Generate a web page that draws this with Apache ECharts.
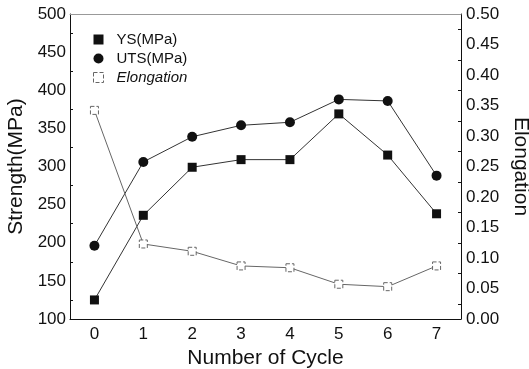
<!DOCTYPE html>
<html lang="en">
<head>
    <meta charset="UTF-8">
    <script type="text/javascript" src="https://cdn.jsdelivr.net/npm/echarts@6/dist/echarts.min.js"></script>
    <title>Strength vs Cycle</title>
    <style>
        html, body { margin: 0; padding: 0; background: #fff; overflow: hidden; }
    </style>
</head>
<body>
<div id="chart" style="width: 529px; height: 369px"></div>

<script>
    var cycles = ['0', '1', '2', '3', '4', '5', '6', '7'];
    var ysData = [125, 236, 299, 309, 309, 369, 315, 238];
    var utsData = [196, 306, 339, 354, 358, 388, 386, 288];
    var elongData = [0.342, 0.123, 0.111, 0.087, 0.084, 0.057, 0.053, 0.087];
    var strengthTicks = [100, 500, 50];
    var elongTicks = [0, 0.5, 0.05];

    var font = 'Liberation Sans, Arial, sans-serif';
    var mChart = echarts.init(document.getElementById('chart'));

    var option = {
        animation: false,
        grid: { left: 70, right: 68, top: 14, bottom: 50, outerBoundsMode: 'none', containLabel: false },
        legend: {
            orient: 'vertical',
            left: 88,
            top: 27,
            itemGap: 4,
            itemWidth: 10,
            itemHeight: 10,
            data: [
                { name: 'YS(MPa)', icon: 'rect' },
                { name: 'UTS(MPa)', icon: 'circle' },
                { name: 'Elongation', icon: 'rect', itemStyle: { color: '#fff', borderColor: '#666', borderWidth: 1, borderType: 'dashed' } }
            ],
            formatter: function (name) {
                return name === 'Elongation' ? '{i|' + name + '}' : name;
            },
            textStyle: {
                fontFamily: font, fontSize: 15, color: '#111', padding: [0, 0, 0, 8],
                rich: { i: { fontStyle: 'italic', fontFamily: font, fontSize: 15, color: '#111' } }
            }
        },
        xAxis: [
            {
                type: 'category',
                data: cycles,
                boundaryGap: true,
                position: 'bottom',
                name: 'Number of Cycle',
                nameLocation: 'middle',
                nameGap: 26,
                nameTextStyle: { fontFamily: font, fontSize: 21, color: '#111' },
                axisLine: { lineStyle: { color: '#111', width: 1 } },
                axisTick: { alignWithLabel: true, inside: true, length: 5, lineStyle: { color: '#111' } },
                axisLabel: { fontFamily: font, fontSize: 17, color: '#111', margin: 7 },
                splitLine: { show: false }
            },
            {
                type: 'category',
                data: cycles,
                boundaryGap: true,
                position: 'bottom',
                axisLine: { show: false },
                axisTick: { alignWithLabel: false, inside: true, length: 3, lineStyle: { color: '#111' } },
                axisLabel: { show: false },
                splitLine: { show: false }
            },
            {
                type: 'category',
                data: cycles,
                boundaryGap: true,
                position: 'top',
                axisLine: { lineStyle: { color: '#999', width: 1 } },
                axisTick: { alignWithLabel: true, inside: true, length: 4, lineStyle: { color: '#999' } },
                axisLabel: { show: false },
                splitLine: { show: false }
            }
        ],
        yAxis: [
            {
                type: 'value',
                min: strengthTicks[0],
                max: strengthTicks[1],
                interval: strengthTicks[2],
                name: 'Strength(MPa)',
                nameLocation: 'middle',
                nameGap: 37,
                nameTextStyle: { fontFamily: font, fontSize: 21, color: '#111' },
                axisLine: { show: true, lineStyle: { color: '#111' } },
                axisTick: { inside: true, length: 5, lineStyle: { color: '#111' } },
                minorTick: { show: true, splitNumber: 2, length: 3, lineStyle: { color: '#111' } },
                axisLabel: { fontFamily: font, fontSize: 17, color: '#111', margin: 4 },
                splitLine: { show: false }
            },
            {
                type: 'value',
                min: elongTicks[0],
                max: elongTicks[1],
                interval: elongTicks[2],
                position: 'right',
                name: 'Elongation',
                nameLocation: 'middle',
                nameRotate: -90,
                nameGap: 46,
                nameTextStyle: { fontFamily: font, fontSize: 21, color: '#111' },
                axisLine: { show: true, lineStyle: { color: '#111' } },
                axisTick: { inside: true, length: 5, lineStyle: { color: '#111' } },
                minorTick: { show: true, splitNumber: 2, length: 3, lineStyle: { color: '#111' } },
                axisLabel: {
                    fontFamily: font, fontSize: 17, color: '#111', margin: 5,
                    formatter: function (v) { return v.toFixed(2); }
                },
                splitLine: { show: false }
            }
        ],
        series: [
            {
                name: 'YS(MPa)',
                type: 'line',
                data: ysData,
                symbol: 'rect',
                symbolSize: 9,
                itemStyle: { color: '#111' },
                lineStyle: { color: '#333', width: 1 }
            },
            {
                name: 'UTS(MPa)',
                type: 'line',
                data: utsData,
                symbol: 'circle',
                symbolSize: 10,
                itemStyle: { color: '#111' },
                lineStyle: { color: '#333', width: 1 }
            },
            {
                name: 'Elongation',
                type: 'line',
                yAxisIndex: 1,
                data: elongData,
                symbol: 'rect',
                symbolSize: 8,
                itemStyle: { color: '#fff', borderColor: '#666', borderWidth: 1, borderType: 'dashed' },
                lineStyle: { color: '#666', width: 1 }
            }
        ]
    };

    mChart.setOption(option);
</script>
</body>
</html>
